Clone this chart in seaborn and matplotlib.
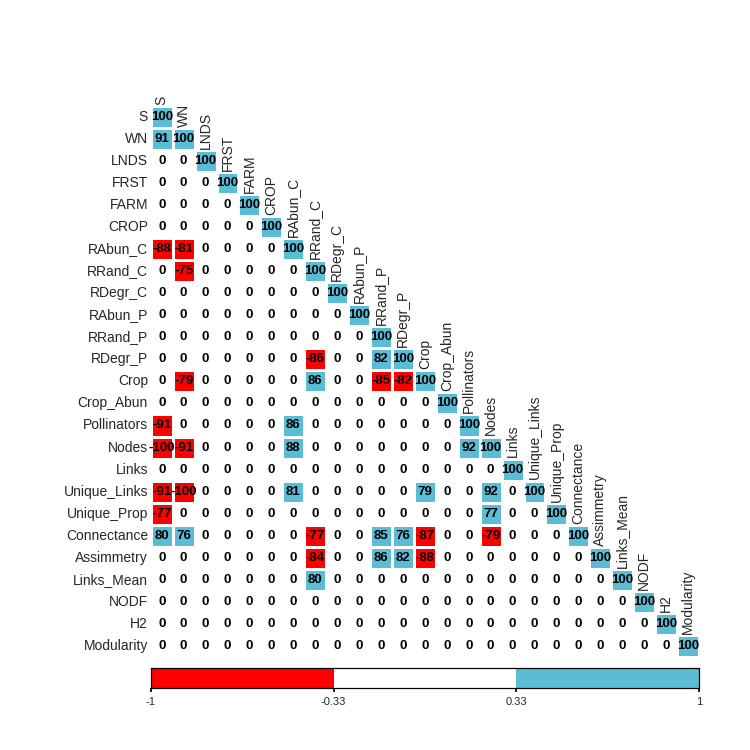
import numpy as np
import pandas as pd
import seaborn as sns
import matplotlib
matplotlib.use("Agg")
import matplotlib.pyplot as plt
from matplotlib.colors import ListedColormap, BoundaryNorm

labels = ["S","WN","LNDS","FRST","FARM","CROP","RAbun_C","RRand_C","RDegr_C","RAbun_P",
          "RRand_P","RDegr_P","Crop","Crop_Abun","Pollinators","Nodes","Links","Unique_Links",
          "Unique_Prop","Connectance","Assimmetry","Links_Mean","NODF","H2","Modularity"]

rows = [
    [100],
    [91,100],
    [0,0,100],
    [0,0,0,100],
    [0,0,0,0,100],
    [0,0,0,0,0,100],
    [-88,-81,0,0,0,0,100],
    [0,-75,0,0,0,0,0,100],
    [0,0,0,0,0,0,0,0,100],
    [0,0,0,0,0,0,0,0,0,100],
    [0,0,0,0,0,0,0,0,0,0,100],
    [0,0,0,0,0,0,0,-86,0,0,82,100],
    [0,-79,0,0,0,0,0,86,0,0,-85,-82,100],
    [0,0,0,0,0,0,0,0,0,0,0,0,0,100],
    [-91,0,0,0,0,0,86,0,0,0,0,0,0,0,100],
    [-100,-91,0,0,0,0,88,0,0,0,0,0,0,0,92,100],
    [0,0,0,0,0,0,0,0,0,0,0,0,0,0,0,0,100],
    [-91,-100,0,0,0,0,81,0,0,0,0,0,79,0,0,92,0,100],
    [-77,0,0,0,0,0,0,0,0,0,0,0,0,0,0,77,0,0,100],
    [80,76,0,0,0,0,0,-77,0,0,85,76,-87,0,0,-79,0,0,0,100],
    [0,0,0,0,0,0,0,-84,0,0,86,82,-88,0,0,0,0,0,0,0,100],
    [0,0,0,0,0,0,0,80,0,0,0,0,0,0,0,0,0,0,0,0,0,100],
    [0]*22+[100],
    [0]*23+[100],
    [0]*24+[100],
]
cbar_ticks = [-1, -0.33, 0.33, 1]
cbar_ticklabels = ["-1", "-0.33", "0.33", "1"]

n = len(labels)
M = np.zeros((n, n))
for i, r in enumerate(rows):
    M[i, :len(r)] = r
    M[:len(r), i] = r
df = pd.DataFrame(M / 100.0, index=labels, columns=labels)
mask = np.triu(np.ones((n, n), dtype=bool), k=1)
annot = np.vectorize(lambda v: f"{int(v)}")(M)

sns.set_theme(style="white")
plt.rcParams['font.family'] = ['Liberation Sans', 'DejaVu Sans']

red, blue = "#FF0000", "#5BBCD6"
cmap = ListedColormap([red, "#FFFFFF", blue])
norm = BoundaryNorm(cbar_ticks, cmap.N)

fig = plt.figure(figsize=(7.5, 7.5), dpi=100)
ax = fig.add_axes([0.201, 0.124, 0.731, 0.735])
cax = fig.add_axes([0.201, 0.083, 0.731, 0.027])
sns.heatmap(df, mask=mask, cmap=cmap, norm=norm, annot=annot, fmt="",
            annot_kws={"fontsize": 9.5, "fontweight": "bold", "color": "black"},
            linewidths=1, linecolor="white", cbar=True, cbar_ax=cax,
            cbar_kws={"orientation": "horizontal", "ticks": cbar_ticks},
            square=False, ax=ax)
ax.set_xticks([])
ax.set_yticks(np.arange(n) + 0.5)
ax.set_yticklabels(labels, fontsize=10, rotation=0)
ax.tick_params(axis="y", length=0, pad=2)
for i, lab in enumerate(labels):
    ax.text(i + 0.5, i - 0.05, lab, rotation=90, ha="center", va="bottom",
            fontsize=10, clip_on=False)
cax.set_xticklabels(cbar_ticklabels, fontsize=8)
cax.tick_params(axis="x", length=3, color="black", bottom=True)
for s in cax.spines.values():
    s.set_visible(True); s.set_color("black"); s.set_linewidth(0.8)
fig.savefig("out.png", dpi=100)
